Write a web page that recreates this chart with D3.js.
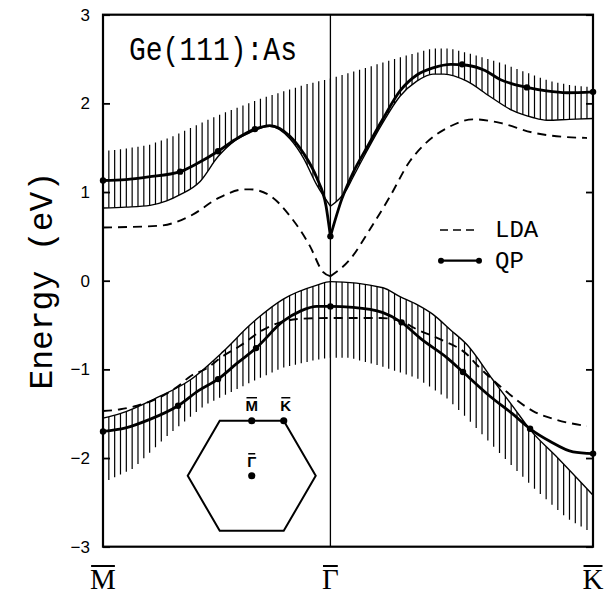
<!DOCTYPE html>
<html>
<head>
<meta charset="utf-8">
<script src="https://cdn.jsdelivr.net/npm/d3@7"></script>
<style>
  html, body { margin: 0; padding: 0; background: #fff; }
  svg { display: block; }
</style>
</head>
<body>
<svg id="chart" width="608" height="596"></svg>
<script>
// k-path M -> Gamma -> K, distances in units of |Gamma M|
const kM = 0, kG = 1, kK = 1 + 2 / Math.sqrt(3);
const kLabels = [
  { k: kM, name: "M" },
  { k: kG, name: "\u0393" },
  { k: kK, name: "K" }
];
const energyTicks = [-3, -2, -1, 0, 1, 2, 3];

// Projected bulk conduction band: upper hatch limit and lower edge (thin line)
const cbTop = [[0,1.46],[0.1,1.49],[0.2,1.53],[0.3,1.62],[0.4,1.74],[0.5,1.86],[0.6,1.96],[0.7,2.06],[0.8,2.14],[0.9,2.22],[1.0,2.28],
  [1.13,2.38],[1.306,2.52],[1.45,2.62],[1.526,2.62],[1.6,2.57],[1.746,2.46],[1.891,2.32],[1.965,2.25],[2.067,2.2],[2.155,2.18]];
const cbEdgeLeft = [[0,0.82],[0.1,0.83],[0.207,0.85],[0.28,0.9],[0.339,0.97],[0.427,1.12],[0.506,1.40],[0.58,1.58],[0.646,1.67],
  [0.734,1.74],[0.822,1.60],[0.881,1.385],[0.940,1.08],[1.0,0.84]];
const cbEdgeRight = [[1.0,0.84],[1.072,1.03],[1.10,1.17],[1.16,1.46],[1.23,1.78],[1.306,2.08],[1.38,2.25],[1.451,2.33],[1.50,2.33],
  [1.60,2.25],[1.70,2.08],[1.80,1.92],[1.89,1.84],[1.952,1.81],[2.05,1.82],[2.155,1.83]];

// Projected bulk valence band: upper edge (thin line) and lower hatch limit
const vbEdge = [[0,-1.55],[0.075,-1.50],[0.237,-1.32],[0.383,-1.12],[0.528,-0.80],[0.646,-0.50],[0.677,-0.43],[0.791,-0.21],
  [0.941,-0.05],[1.0,-0.01],[1.231,-0.08],[1.306,-0.18],[1.381,-0.27],[1.451,-0.38],[1.526,-0.55],[1.60,-0.72],[1.715,-1.12],
  [1.803,-1.42],[1.878,-1.68],[2.0,-2.0],[2.155,-2.42]];
const vbBottom = [[0,-2.28],[0.132,-2.12],[0.295,-1.72],[0.45,-1.40],[0.646,-1.15],[0.791,-0.98],[0.941,-0.89],[1.0,-0.87],
  [1.086,-0.87],[1.231,-0.97],[1.381,-1.10],[1.451,-1.22],[1.513,-1.33],[1.60,-1.55],[1.746,-1.95],[1.891,-2.33],[2.04,-2.68],[2.155,-2.85]];

// Surface-state bands, LDA
const ldaUpperLeft = [[0,0.60],[0.25,0.62],[0.383,0.73],[0.514,0.94],[0.62,1.03],[0.646,1.03],[0.734,0.96],[0.822,0.73],
  [0.91,0.39],[0.967,0.10],[1.0,0.05]];
const ldaUpperRight = [[1.0,0.05],[1.086,0.24],[1.174,0.58],[1.262,0.95],[1.35,1.35],[1.407,1.52],[1.526,1.74],[1.627,1.82],
  [1.746,1.78],[1.891,1.67],[2.04,1.62],[2.128,1.61]];
const ldaLower = [[0,-1.47],[0.077,-1.45],[0.15,-1.41],[0.22,-1.35],[0.33,-1.19],[0.383,-1.08],[0.455,-0.99],[0.528,-0.85],
  [0.60,-0.74],[0.70,-0.56],[0.78,-0.47],[0.87,-0.43],[1.0,-0.42],[1.22,-0.42],[1.32,-0.47],[1.381,-0.55],[1.482,-0.66],
  [1.60,-0.83],[1.644,-0.95],[1.746,-1.19],[1.891,-1.47],[1.996,-1.57],[2.128,-1.64]];

// Surface-state bands, quasiparticle (QP)
const qpUpperLeft = [[0,1.13],[0.1,1.14],[0.2,1.17],[0.339,1.23],[0.42,1.33],[0.506,1.46],[0.58,1.59],[0.668,1.71],[0.734,1.75],
  [0.822,1.63],[0.881,1.44],[0.940,1.16],[0.981,0.84],[1.0,0.50]];
const qpUpperRight = [[1.0,0.50],[1.05,0.92],[1.10,1.22],[1.16,1.50],[1.23,1.82],[1.306,2.14],[1.38,2.32],[1.451,2.40],[1.53,2.44],
  [1.60,2.43],[1.68,2.37],[1.746,2.27],[1.80,2.22],[1.864,2.18],[1.95,2.14],[2.04,2.12],[2.155,2.13]];
const qpLower = [[0,-1.70],[0.1,-1.66],[0.2,-1.57],[0.330,-1.41],[0.42,-1.24],[0.506,-1.11],[0.59,-0.93],[0.673,-0.76],[0.791,-0.46],
  [0.87,-0.34],[0.941,-0.29],[1.0,-0.29],[1.1,-0.30],[1.231,-0.36],[1.313,-0.47],[1.40,-0.66],[1.513,-0.87],[1.583,-1.03],
  [1.70,-1.30],[1.80,-1.50],[1.878,-1.67],[1.965,-1.81],[2.067,-1.93],[2.155,-1.95]];
const qpUpperDots = [[0,1.13],[0.339,1.23],[0.506,1.46],[0.668,1.71],[1.0,0.50],[1.579,2.44],[1.864,2.18],[2.155,2.13]];
const qpLowerDots = [[0,-1.70],[0.330,-1.41],[0.506,-1.11],[0.673,-0.76],[1.0,-0.29],[1.313,-0.47],[1.583,-1.03],[1.878,-1.67],[2.155,-1.95]];

// ---------------------------------------------------------------
const svg = d3.select("#chart");
const x = d3.scaleLinear().domain([kM, kK]).range([103, 593]);
const y = d3.scaleLinear().domain([-3, 3]).range([546.7, 14.7]);

const line = d3.line().x(d => x(d[0])).y(d => y(d[1])).curve(d3.curveMonotoneX);

function interp(series, k) {
  for (let i = 1; i < series.length; i++) {
    if (k <= series[i][0]) {
      const [k0, e0] = series[i - 1], [k1, e1] = series[i];
      return e0 + (e1 - e0) * (k - k0) / (k1 - k0);
    }
  }
  return series[series.length - 1][1];
}

const defs = svg.append("defs");
// region above the conduction-band edge
defs.append("clipPath").attr("id", "clip-cb").append("path")
  .attr("d", line(cbEdgeLeft) + line(cbEdgeRight).replace(/^M/, "L") +
    `L${x(kK)},${y(3)}L${x(kM)},${y(3)}Z`);
// region below the valence-band edge
defs.append("clipPath").attr("id", "clip-vb").append("path")
  .attr("d", line(vbEdge) + `L${x(kK)},${y(-3)}L${x(kM)},${y(-3)}Z`);

// vertical hatching of the projected bulk bands
const hatchK = d3.range(0, kK + 1e-6, 1 / 39).filter(k => k > 0.001);
svg.append("g").attr("clip-path", "url(#clip-cb)")
  .selectAll("line").data(hatchK).join("line")
  .attr("x1", k => x(k)).attr("x2", k => x(k))
  .attr("y1", k => y(interp(cbTop, k))).attr("y2", y(-3))
  .attr("stroke", "#000").attr("stroke-width", 1.2);
svg.append("g").attr("clip-path", "url(#clip-vb)")
  .selectAll("line").data(hatchK).join("line")
  .attr("x1", k => x(k)).attr("x2", k => x(k))
  .attr("y1", k => y(interp(vbBottom, k))).attr("y2", y(3))
  .attr("stroke", "#000").attr("stroke-width", 1.2);

// bulk band edges
[cbEdgeLeft, cbEdgeRight, vbEdge].forEach(s =>
  svg.append("path").attr("d", line(s)).attr("fill", "none")
    .attr("stroke", "#000").attr("stroke-width", 1.4));

// LDA surface bands
[ldaUpperLeft, ldaUpperRight, ldaLower].forEach(s =>
  svg.append("path").attr("d", line(s)).attr("fill", "none")
    .attr("stroke", "#000").attr("stroke-width", 1.9).attr("stroke-dasharray", "9 6"));

// QP surface bands
[qpUpperLeft, qpUpperRight, qpLower].forEach(s =>
  svg.append("path").attr("d", line(s)).attr("fill", "none")
    .attr("stroke", "#000").attr("stroke-width", 2.8));
svg.append("g").selectAll("circle").data(qpUpperDots.concat(qpLowerDots)).join("circle")
  .attr("cx", d => x(d[0])).attr("cy", d => y(d[1])).attr("r", 3.2).attr("fill", "#000");

// Gamma line
svg.append("line").attr("x1", x(kG)).attr("x2", x(kG)).attr("y1", y(3)).attr("y2", y(-3))
  .attr("stroke", "#000").attr("stroke-width", 1.3);

// axes (ticks point inward)
const left = svg.append("g").attr("transform", `translate(${x(kM)},0)`)
  .call(d3.axisLeft(y).tickValues(energyTicks).tickSize(-7).tickPadding(13)
    .tickFormat(d => d < 0 ? "\u2212" + Math.abs(d) : d));
left.select(".domain").remove();
left.selectAll("line").attr("stroke-width", 1.8);
left.selectAll("text").attr("font-family", "Liberation Sans, Arial, sans-serif").attr("font-size", 17).attr("fill", "#000");

const right = svg.append("g").attr("transform", `translate(${x(kK)},0)`)
  .call(d3.axisRight(y).tickValues(energyTicks).tickSize(-7).tickFormat(""));
right.select(".domain").remove();
right.selectAll("line").attr("stroke-width", 1.8);

svg.append("rect").attr("x", x(kM)).attr("y", y(3))
  .attr("width", x(kK) - x(kM)).attr("height", y(-3) - y(3))
  .attr("fill", "none").attr("stroke", "#000").attr("stroke-width", 2.2);

// k-point labels with overbars
kLabels.forEach(p => {
  const t = svg.append("text").attr("x", x(p.k)).attr("y", 589).attr("text-anchor", "middle")
    .attr("font-family", "Liberation Serif, Times New Roman, serif").attr("font-size", 29).text(p.name);
  const b = t.node().getBBox();
  svg.append("line").attr("x1", b.x + 1).attr("x2", b.x + b.width - 1).attr("y1", 566).attr("y2", 566)
    .attr("stroke", "#000").attr("stroke-width", 2);
});

// axis title
svg.append("text").attr("transform", `translate(52,${y(0)}) rotate(-90)`).attr("text-anchor", "middle")
  .attr("font-family", "Liberation Mono, Courier New, monospace").attr("font-size", 33).text("Energy (eV)");

// system label
svg.append("text").attr("transform", "translate(129,60) scale(1,1.18)")
  .attr("font-family", "Liberation Mono, Courier New, monospace").attr("font-size", 28).text("Ge(111):As");

// legend
const lg = svg.append("g");
lg.append("line").attr("x1", 440).attr("x2", 476).attr("y1", 230).attr("y2", 230)
  .attr("stroke", "#000").attr("stroke-width", 1.4).attr("stroke-dasharray", "8 5");
lg.append("text").attr("x", 495).attr("y", 237).attr("font-family", "Liberation Mono, Courier New, monospace")
  .attr("font-size", 24).text("LDA");
lg.append("line").attr("x1", 441).attr("x2", 479).attr("y1", 260.7).attr("y2", 260.7)
  .attr("stroke", "#000").attr("stroke-width", 2.2);
[441, 479].forEach(cx => lg.append("circle").attr("cx", cx).attr("cy", 260.7).attr("r", 3).attr("fill", "#000"));
lg.append("text").attr("x", 495).attr("y", 268).attr("font-family", "Liberation Mono, Courier New, monospace")
  .attr("font-size", 24).text("QP");

// surface Brillouin zone inset
const cx0 = x(0.654), cy0 = y(-2.2), R = 64;
const hex = d3.range(6).map(i => [cx0 + R * Math.cos(Math.PI / 3 * i), cy0 + R * Math.sin(Math.PI / 3 * i) * 0.86 / 0.866]);
svg.append("path").attr("d", "M" + hex.join("L") + "Z").attr("fill", "none").attr("stroke", "#000").attr("stroke-width", 2);
const topY = cy0 - R * 0.86;
const bzPts = [
  { name: "M", px: cx0, py: topY, ty: topY - 10 },
  { name: "K", px: cx0 + R / 2, py: topY, ty: topY - 10 },
  { name: "\u0393", px: cx0, py: cy0, ty: cy0 - 9 }
];
bzPts.forEach(p => {
  svg.append("circle").attr("cx", p.px).attr("cy", p.py).attr("r", 3.6).attr("fill", "#000");
  const t = svg.append("text").attr("x", p.px + (p.name === "K" ? 2 : 0)).attr("y", p.ty).attr("text-anchor", "middle")
    .attr("font-family", "Liberation Sans, Arial, sans-serif").attr("font-weight", "bold").attr("font-size", 15).text(p.name);
  const b = t.node().getBBox();
  svg.append("line").attr("x1", b.x + 1).attr("x2", b.x + b.width - 1)
    .attr("y1", p.ty - 13).attr("y2", p.ty - 13).attr("stroke", "#000").attr("stroke-width", 1.5);
});
</script>
</body>
</html>
